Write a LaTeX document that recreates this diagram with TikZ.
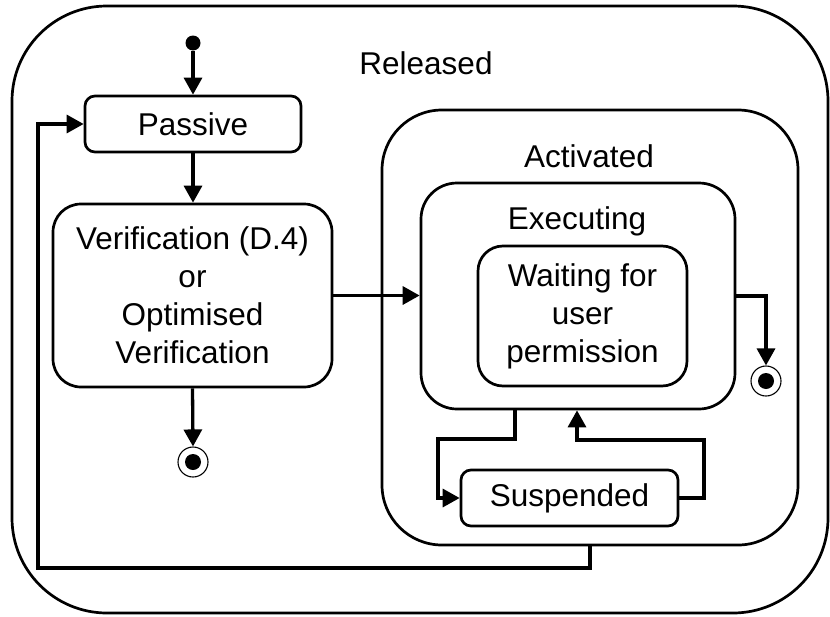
\documentclass[tikz,border=0pt]{standalone}
\usepackage{fontspec}
\setmainfont{Liberation Sans}
\usetikzlibrary{arrows.meta}

\begin{document}
\begin{tikzpicture}[x=1pt,y=-1pt,
  every node/.style={font=\fontsize{31.5}{38}\selectfont},
  state/.style={draw, line width=2.7pt, inner sep=0pt, align=center},
  arr/.style={line width=3.3pt, -{Triangle[length=17pt,width=18pt]}},
  finalstate/.style={circle, draw, line width=1.1pt, minimum size=30pt, inner sep=0pt,
    path picture={\fill (path picture bounding box.center) circle (8pt);}},
  initstate/.style={circle, fill, minimum size=15pt, inner sep=0pt}
]
  % canvas
  \fill[white] (0,0) rectangle (830,616);
  \useasboundingbox (0,0) rectangle (830,616);

  % composite states
  \node[state, rounded corners=95pt, minimum width=816pt, minimum height=607pt] (rel) at (420,309.5) {};
  \node (relL) at (426,63) {Released};
  \node[state, rounded corners=60pt, minimum width=416pt, minimum height=435pt] (act) at (590,327.5) {};
  \node (actL) at (589,156) {Activated};
  \node[state, rounded corners=36pt, minimum width=314pt, minimum height=226pt] (exec) at (578,296) {};
  \node (execL) at (577,221) {Executing};

  % simple states
  \node[state, rounded corners=25pt, minimum width=209pt, minimum height=140pt] (wait) at (582.5,316)
    {Waiting for\\user\\permission};
  \node[state, rounded corners=10pt, minimum width=216pt, minimum height=56pt] (passive) at (193,124) {Passive};
  \node[state, rounded corners=28pt, minimum width=279pt, minimum height=183pt] (verif) at (192.5,295.5)
    {Verification (D.4)\\or\\Optimised\\Verification};
  \node[state, rounded corners=10pt, minimum width=217pt, minimum height=56pt] (susp) at (569.5,498) {Suspended};

  % pseudo states
  \node[initstate] (init) at (193,43) {};
  \node[finalstate] (fin1) at (193,462) {};
  \node[finalstate] (fin2) at (766,381) {};

  % bend points
  \coordinate (a1) at (515,439);
  \coordinate (a2) at (438,439);
  \coordinate (b1) at (704,440);
  \coordinate (b2) at (577,440);
  \coordinate (c1) at (590,568);
  \coordinate (c2) at (38,568);

  % transitions
  \draw[arr] (init) -- (init |- passive.north);
  \draw[arr] (passive.south) -- (passive.south |- verif.north);
  \draw[arr] (verif.south) -- (fin1.north);
  \draw[arr] (verif.east) -- (verif.east -| exec.west);
  \draw[arr] (exec.east) -| (fin2.north);
  \draw[arr] (a1 |- exec.south) -- (a1) -- (a2) |- (susp.west);
  \draw[arr] (susp.east) -| (b1) -- (b2) -- (b2 |- exec.south);
  \draw[arr] (act.south) -- (c1) -- (c2) |- (passive.west);
\end{tikzpicture}
\end{document}
